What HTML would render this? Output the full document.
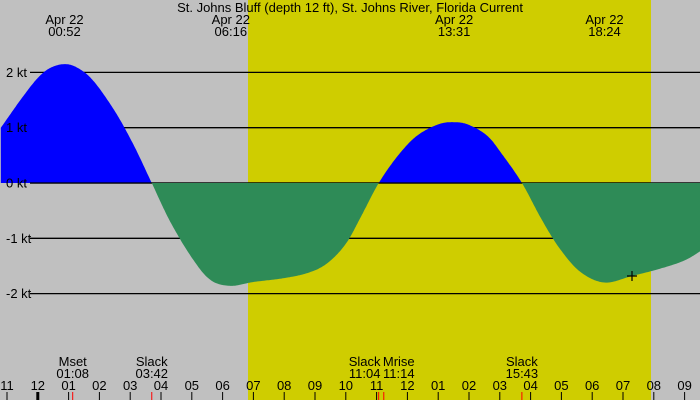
<!DOCTYPE html>
<html><head><meta charset="utf-8"><style>
body{margin:0;background:#c0c0c0}
svg{display:block;font-family:"Liberation Sans",sans-serif}
</style></head><body>
<svg id="chart" width="700" height="400" xmlns="http://www.w3.org/2000/svg">
<rect x="0" y="0" width="700" height="400" fill="#c0c0c0"/>
<rect x="248" y="0" width="403" height="400" fill="#cfcd00"/>
<g id="grid"></g>
<g id="fills"></g>
<g id="labels"></g>
</svg>
<script>
const hours=[-1.2,-0.5,0,0.4,0.87,1.3,1.8,2.5,3.1,3.7,4.3,5.0,5.6,6.25,7.0,8.0,8.8,9.4,10.0,10.5,11.07,11.7,12.3,13.0,13.52,14.0,14.6,15.1,15.72,16.3,16.9,17.6,18.4,19.3,20.2,21.0,21.6];
const speeds=[1.0,1.55,1.9,2.08,2.15,2.08,1.85,1.3,0.7,0,-0.7,-1.35,-1.75,-1.86,-1.79,-1.72,-1.62,-1.45,-1.1,-0.6,0,0.5,0.85,1.06,1.1,1.05,0.85,0.5,0,-0.6,-1.15,-1.6,-1.8,-1.68,-1.55,-1.4,-1.2];
const ktTicks=[2,1,0,-1,-2];
const hourLabels=["11","12","01","02","03","04","05","06","07","08","09","10","11","12","01","02","03","04","05","06","07","08","09"];
const topEvents=[["Apr 22","00:52",0.867],["Apr 22","06:16",6.267],["Apr 22","13:31",13.517],["Apr 22","18:24",18.4]];
const bottomEvents=[["Mset","01:08",1.133],["Slack","03:42",3.7],["Slack","11:04",11.067],["Mrise","11:14",11.233],["Slack","15:43",15.717]];
const NS="http://www.w3.org/2000/svg";
const X=h=>37.8+h*30.8;
const Y=v=>183-v*55.3;
function mk(t,a,parent){const e=document.createElementNS(NS,t);for(const k in a)e.setAttribute(k,a[k]);parent.appendChild(e);return e;}
const grid=document.getElementById('grid'),fills=document.getElementById('fills'),labels=document.getElementById('labels');
ktTicks.forEach(k=>{
  const l=mk('line',{x1:30,x2:700,y1:Y(k),y2:Y(k),stroke:'#000','stroke-width':1.3},grid);
  
  
  const t=mk('text',{x:6,y:Y(k)+4.5,'font-size':13},labels);t.textContent=k+' kt';
  
  
});
const pts=[];
for(let i=0;i<hours.length-1;i++){
  const p0=i>0?i-1:i,p3=i+2<hours.length?i+2:i+1;
  for(let s=0;s<20;s++){const t=s/20;
    const cr=(a,b,c,d)=>0.5*((2*b)+(-a+c)*t+(2*a-5*b+4*c-d)*t*t+(-a+3*b-3*c+d)*t*t*t);
    pts.push([X(cr(hours[p0],hours[i],hours[i+1],hours[p3])),Y(cr(speeds[p0],speeds[i],speeds[i+1],speeds[p3]))]);}
}
pts.push([X(hours[hours.length-1]),Y(speeds[speeds.length-1])]);
const d='M'+pts[0][0]+','+Y(0)+' '+pts.map(p=>'L'+p[0].toFixed(1)+','+p[1].toFixed(1)).join(' ')+' L'+pts[pts.length-1][0]+','+Y(0)+'Z';
const cpos=mk('clipPath',{id:'pos'},fills);
mk('rect',{x:0,y:0,width:700,height:Y(0)},cpos);
const cneg=mk('clipPath',{id:'neg'},fills);
mk('rect',{x:0,y:Y(0),width:700,height:220},cneg);
const flood=mk('path',{d:d,fill:'#0000ff','clip-path':'url(#pos)'},fills);


mk('line',{x1:30,x2:700,y1:Y(0),y2:Y(0),stroke:'#000','stroke-width':1.3},fills);
const ebb=mk('path',{d:d,fill:'#2e8b57','clip-path':'url(#neg)'},fills);


mk('path',{d:'M627,276H637M632,271V281',stroke:'#000','stroke-width':1.2},labels);
const title=mk('text',{x:350,y:12,'font-size':13,'text-anchor':'middle'},labels);
title.textContent='St. Johns Bluff (depth 12 ft), St. Johns River, Florida Current';


topEvents.forEach(e=>{
  const t=mk('text',{x:X(e[2]),y:24,'font-size':13,'text-anchor':'middle'},labels);t.textContent=e[0];
  
  
  const t2=mk('text',{x:X(e[2]),y:36,'font-size':13,'text-anchor':'middle'},labels);t2.textContent=e[1];
  
  
});
bottomEvents.forEach((e,i)=>{
  const off=i==2?-14:(i==3?15:0);
  const t=mk('text',{x:X(e[2])+off,y:366,'font-size':13,'text-anchor':'middle'},labels);t.textContent=e[0];
  
  
  const t2=mk('text',{x:X(e[2])+off,y:378,'font-size':13,'text-anchor':'middle'},labels);t2.textContent=e[1];
  
  
  mk('line',{x1:X(e[2]),x2:X(e[2]),y1:392,y2:400,stroke:'#f00','stroke-width':1},labels);
});
hourLabels.forEach((h,i)=>{
  const x=X(i-1);
  const t=mk('text',{x:x,y:390,'font-size':13,'text-anchor':'middle'},labels);t.textContent=h;
  
  
  mk('line',{x1:x,x2:x,y1:392,y2:400,stroke:'#000','stroke-width':i==1?3:1},labels);
});
</script>
</body></html>
